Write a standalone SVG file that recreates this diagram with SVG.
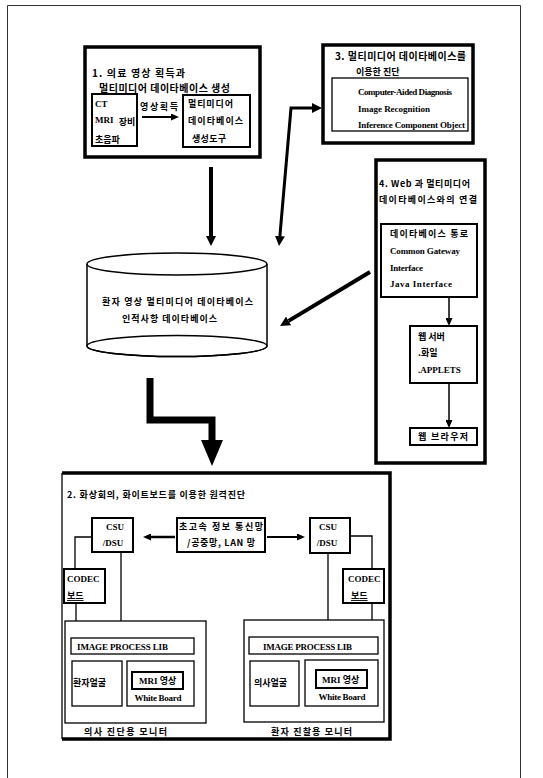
<svg xmlns="http://www.w3.org/2000/svg" width="543" height="778" viewBox="0 0 543 778">
<style>
text{font-family:"Liberation Serif","Noto Sans CJK KR",serif;font-weight:bold;font-size:9px;fill:#000}
.k{font-family:"Noto Sans CJK KR","Liberation Serif",sans-serif;font-size:9px}
.t{font-size:10px}
.box{fill:#fff;stroke:#000}
.thick{stroke-width:3.5}
.mid{stroke-width:2}
.thin{stroke-width:1.3}
.ln{fill:none;stroke:#000}
.u{text-decoration:underline}
</style>
<defs>
<marker id="ah" viewBox="0 0 10 10" refX="0" refY="5" markerWidth="10" markerHeight="10" orient="auto-start-reverse" markerUnits="userSpaceOnUse"><path d="M0,0L10,5L0,10z"/></marker>
<marker id="as" viewBox="0 0 8 7" refX="0" refY="3.5" markerWidth="8" markerHeight="7" orient="auto-start-reverse" markerUnits="userSpaceOnUse"><path d="M0,0L8,3.5L0,7z"/></marker>
</defs>
<rect x="0" y="0" width="543" height="778" fill="#fff"/>
<path d="M7.5,800V5.5H520.5V800" fill="none" stroke="#333" stroke-width="1"/>

<g id="box1">
<rect class="box thick" x="85" y="47" width="175" height="110"/>
<text class="k t" x="92" y="77" textLength="93">1. 의료 영상 획득과</text>
<text class="k t" x="99" y="92" textLength="131">멀티미디어 데이타베이스 생성</text>
<rect class="box mid" x="92" y="94" width="45" height="52"/>
<text x="95" y="107">CT</text>
<text x="95" y="123">MRI <tspan class="k" dx="3" dy="2">장비</tspan></text>
<text class="k" x="95" y="143">초음파</text>
<text class="k" x="140" y="110" textLength="38">영상획득</text>
<rect class="box mid" x="183" y="95" width="67" height="52"/>
<text class="k" x="188" y="107" textLength="45">멀티미디어</text>
<text class="k" x="188" y="124" textLength="55">데이타베이스</text>
<text class="k" x="192" y="142" textLength="34">생성도구</text>
</g>

<g id="box3">
<rect class="box thick" x="323" y="45" width="150" height="98"/>
<text class="k t" x="335" y="60" textLength="131">3. 멀티미디어 데이타베이스를</text>
<text class="k" x="356" y="75">이용한 진단</text>
<rect class="box thin" x="332" y="78" width="136" height="53"/>
<text x="358" y="95" textLength="94">Computer-Aided Diagnosis</text>
<text x="358" y="112" textLength="72">Image Recognition</text>
<text x="358" y="128" textLength="107">Inference Component Object</text>
</g>

<g id="box4">
<rect class="box thick" x="376" y="160" width="109" height="303"/>
<text class="k" x="379" y="187" textLength="91">4. Web 과 멀티미디어</text>
<text class="k" x="379" y="203" textLength="98">데이타베이스와의 연결</text>
<rect class="box mid" x="381" y="224" width="96" height="73"/>
<text class="k" x="390" y="237" textLength="78">데이타베이스 통로</text>
<text x="390" y="254" textLength="70">Common Gateway</text>
<text x="390" y="271" textLength="33">Interface</text>
<text x="390" y="287" textLength="62">Java Interface</text>
</g>

<g id="webserver">
<rect class="box mid" x="410" y="326" width="67" height="57"/>
<text class="k" x="418" y="340">웹 서버</text>
<text class="k" x="418" y="356">.화일</text>
<text x="418" y="373">.APPLETS</text>
</g>

<g id="browser">
<rect class="box mid" x="410" y="428" width="67" height="17"/>
<text class="k" x="418" y="440" textLength="50">웹 브라우저</text>
</g>

<g id="database">
<path d="M87,264V346A90,10.5 0 0 0 267,346V264" fill="#fff" stroke="#000" stroke-width="1.5"/>
<ellipse cx="177" cy="346" rx="90" ry="10.5" fill="none" stroke="#000" stroke-width="1.5"/>
<ellipse cx="177" cy="264" rx="90" ry="11" fill="#fff" stroke="#000" stroke-width="1.5"/>
<text class="k" x="102" y="305" textLength="151">환자 영상 멀티미디어 데이타베이스</text>
<text class="k" x="122" y="322" textLength="95">인적사항 데이타베이스</text>
</g>

<g id="box2">
<path d="M62,473V739" class="ln" stroke-width="1.3"/>
<path d="M62,473H390V739H62" class="ln" stroke-width="3.5"/>
<text class="k" x="67" y="498" textLength="178">2. 화상회의, 화이트보드를 이용한 원격진단</text>
</g>

<g id="csu-left">
<rect class="box mid" x="92" y="518" width="41" height="34"/>
<text x="115" y="530" text-anchor="middle">CSU</text>
<text x="113" y="546" text-anchor="middle">/DSU</text>
</g>
<g id="network">
<rect class="box mid" x="177" y="518" width="88" height="34"/>
<text class="k" x="179" y="530" textLength="84">초고속 정보 통신망</text>
<text class="k" x="187" y="546" textLength="68">/공중망, LAN 망</text>
</g>
<g id="csu-right">
<rect class="box mid" x="310" y="518" width="40" height="35"/>
<text x="328" y="530" text-anchor="middle">CSU</text>
<text x="327" y="546" text-anchor="middle">/DSU</text>
</g>
<g id="codec-left">
<rect class="box mid" x="64" y="569" width="41" height="34"/>
<text x="67" y="582">CODEC</text>
<text class="k u" x="67" y="599">보드</text>
</g>
<g id="codec-right">
<rect class="box mid" x="343" y="569" width="41" height="34"/>
<text x="348" y="582">CODEC</text>
<text class="k u" x="351" y="599">보드</text>
</g>

<g id="monitor-left">
<rect class="box thin" x="65" y="621" width="141" height="102"/>
<rect class="box thin" x="71" y="638" width="123" height="16"/>
<text x="77" y="650" textLength="91">IMAGE PROCESS LIB</text>
<rect class="box thin" x="72" y="661" width="50" height="45"/>
<text class="k" x="73" y="686">환자얼굴</text>
<rect class="box thin" x="127" y="661" width="67" height="45"/>
<rect class="box mid" x="132" y="672" width="51" height="17"/>
<text x="139" y="684">MRI <tspan class="k">영상</tspan></text>
<text x="158" y="701" text-anchor="middle" textLength="47">White Board</text>
<text class="k" x="84" y="735" textLength="83">의사 진단용 모니터</text>
</g>

<g id="monitor-right">
<rect class="box thin" x="244" y="620" width="140" height="102"/>
<rect class="box thin" x="249" y="637" width="129" height="17"/>
<text x="263" y="650" textLength="89">IMAGE PROCESS LIB</text>
<rect class="box thin" x="250" y="661" width="49" height="45"/>
<text class="k" x="254" y="686">의사얼굴</text>
<rect class="box thin" x="305" y="660" width="73" height="46"/>
<rect class="box mid" x="316" y="670" width="51" height="18"/>
<text x="322" y="683">MRI <tspan class="k">영상</tspan></text>
<text x="342" y="700" text-anchor="middle" textLength="47">White Board</text>
<text class="k" x="271" y="735" textLength="81">환자 진찰용 모니터</text>
</g>

<g id="connectors">
<path class="ln" stroke-width="2" d="M142,117H171" marker-end="url(#as)"/>
<path class="ln" stroke-width="4" d="M211,167V236" marker-end="url(#ah)"/>
<path class="ln" stroke-width="3" d="M279.9,236L291,108H312" marker-start="url(#ah)" marker-end="url(#ah)"/>
<path class="ln" stroke-width="4" d="M370,272L288.6,320.9" marker-end="url(#ah)"/>
<path class="ln" stroke-width="1.5" d="M449,297V318" marker-end="url(#as)"/>
<path class="ln" stroke-width="1.5" d="M449,383V420" marker-end="url(#as)"/>
<path class="ln" stroke-width="7" d="M150,378V420H212V442"/>
<path d="M201,440H223L212,466z"/>
<path class="ln" stroke-width="2.5" d="M175,537H151" marker-end="url(#as)"/>
<path class="ln" stroke-width="2" d="M267,537H297" marker-end="url(#as)"/>
<path class="ln" stroke-width="1.3" d="M92,537H75V569M121,552V621M76,603V621"/>
<path class="ln" stroke-width="1.3" d="M350,536H372V569M328,553V620M372,603V620"/>
</g>
</svg>
